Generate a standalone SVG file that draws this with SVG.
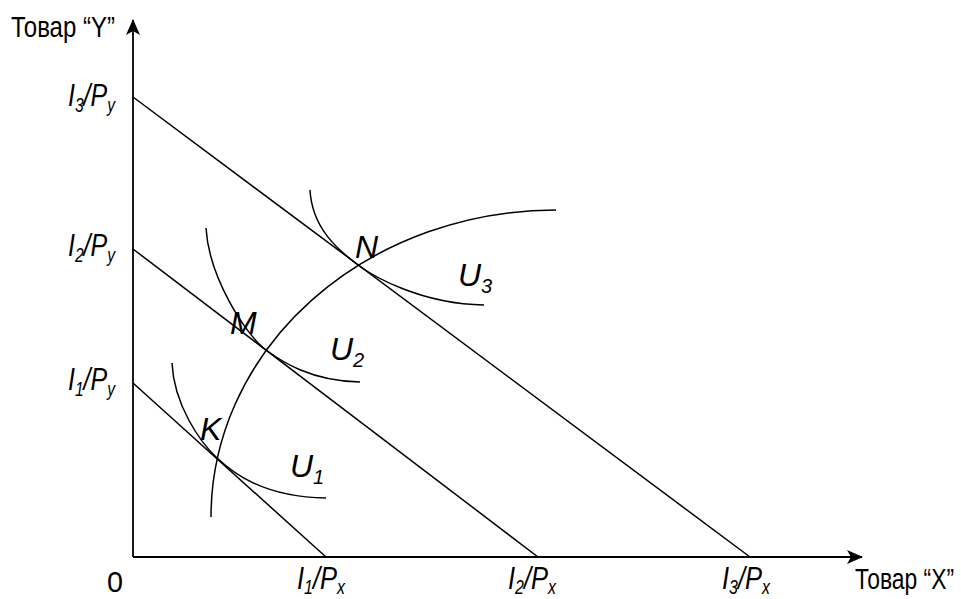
<svg xmlns="http://www.w3.org/2000/svg" width="961" height="599" viewBox="0 0 961 599">
<style>
.ln{fill:none;stroke:#000;stroke-width:1.5}
.ax{fill:none;stroke:#000;stroke-width:1.8}
.t{font-family:"Liberation Sans",Arial,sans-serif;font-size:30px;fill:#000}
.i{font-family:"Liberation Sans",Arial,sans-serif;font-style:italic;font-size:32px;fill:#000}
.s{font-size:20px}
</style>
<defs>
<marker id="ah" viewBox="0 0 16 14" refX="15" refY="7" markerWidth="16" markerHeight="14" markerUnits="userSpaceOnUse" orient="auto">
<path d="M0,0 L16,7 L0,14 L4,7 Z" fill="#000"/>
</marker>
</defs>
<rect width="961" height="599" fill="#fff"/>
<g id="axes">
<path class="ax" d="M133,557 L133,20" marker-end="url(#ah)"/>
<path class="ax" d="M133,557 L862,557" marker-end="url(#ah)"/>
<text class="t" x="11" y="37" textLength="104" lengthAdjust="spacingAndGlyphs">Товар “Y”</text>
<text class="t" x="855" y="589" textLength="99" lengthAdjust="spacingAndGlyphs" style="font-size:29px">Товар “X”</text>
<text class="t" x="107" y="592" textLength="16" lengthAdjust="spacingAndGlyphs">0</text>
</g>
<g id="budget-lines">
<path class="ln" d="M133,97 L750,557"/>
<path class="ln" d="M133,249 L538,557"/>
<path class="ln" d="M133,383 L326,557"/>
</g>
<g id="icc">
<path class="ln" d="M211,517 A345,307 0 0 1 556,210"/>
</g>
<g id="U1">
<path class="ln" d="M172,363 C174,405 200,442 217,458 C232,472 262,497 326,498"/>
<text class="i" x="290" y="477">U<tspan class="s" dy="7">1</tspan></text>
</g>
<g id="U2">
<path class="ln" d="M206,228 C209,278 246,335 266,350 C281,361 310,381 360,382"/>
<text class="i" x="330" y="360">U<tspan class="s" dy="7">2</tspan></text>
</g>
<g id="U3">
<path class="ln" d="M310,190 C312,228 338,250 358,265 C372,275.4 420,304 484,305"/>
<text class="i" x="458" y="286">U<tspan class="s" dy="7">3</tspan></text>
</g>
<g id="K"><text class="i" x="200" y="440">K</text></g>
<g id="M"><text class="i" x="230" y="334">M</text></g>
<g id="N"><text class="i" x="355" y="258">N</text></g>
<g id="y-labels">
<text class="i" x="68" y="106" textLength="47" lengthAdjust="spacingAndGlyphs">I<tspan class="s" dy="6">3</tspan><tspan dy="-6">/P</tspan><tspan class="s" dy="6">y</tspan></text>
<text class="i" x="68" y="256" textLength="47" lengthAdjust="spacingAndGlyphs">I<tspan class="s" dy="6">2</tspan><tspan dy="-6">/P</tspan><tspan class="s" dy="6">y</tspan></text>
<text class="i" x="68" y="390" textLength="47" lengthAdjust="spacingAndGlyphs">I<tspan class="s" dy="6">1</tspan><tspan dy="-6">/P</tspan><tspan class="s" dy="6">y</tspan></text>
</g>
<g id="x-labels">
<text class="i" x="297" y="589" textLength="48" lengthAdjust="spacingAndGlyphs">I<tspan class="s" dy="5">1</tspan><tspan dy="-5">/P</tspan><tspan class="s" dy="5">x</tspan></text>
<text class="i" x="508" y="589" textLength="48" lengthAdjust="spacingAndGlyphs">I<tspan class="s" dy="5">2</tspan><tspan dy="-5">/P</tspan><tspan class="s" dy="5">x</tspan></text>
<text class="i" x="722" y="589" textLength="48" lengthAdjust="spacingAndGlyphs">I<tspan class="s" dy="5">3</tspan><tspan dy="-5">/P</tspan><tspan class="s" dy="5">x</tspan></text>
</g>
</svg>
